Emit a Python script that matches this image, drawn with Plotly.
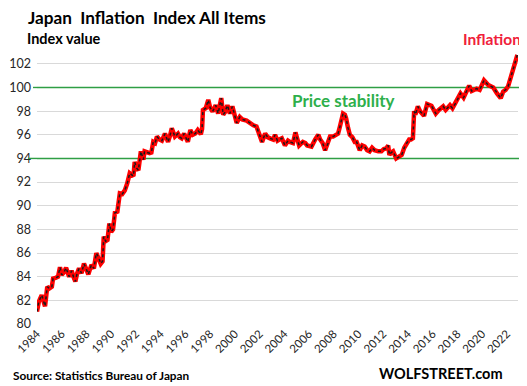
import plotly.graph_objects as go

# Digitized vertices of the line (decimal year, index value, 2020=100)
years = [
    1984.00, 1984.15, 1984.38, 1984.50, 1984.65, 1984.83, 1985.00, 1985.20, 1985.30, 1985.50,
    1985.70, 1985.86, 1986.00, 1986.20, 1986.35, 1986.60, 1986.80, 1986.95, 1987.10, 1987.25,
    1987.40, 1987.60, 1987.80, 1988.00, 1988.15, 1988.40, 1988.60, 1988.80, 1989.00, 1989.15,
    1989.30, 1989.40, 1989.55, 1989.70, 1989.85, 1990.00, 1990.15, 1990.30, 1990.50, 1990.70,
    1990.90, 1991.10, 1991.30, 1991.50, 1991.80, 1991.90, 1992.05, 1992.20, 1992.40, 1992.60,
    1992.70, 1992.90, 1993.10, 1993.25, 1993.40, 1993.55, 1993.70, 1993.90, 1994.10, 1994.35,
    1994.60, 1994.75, 1994.90, 1995.15, 1995.40, 1995.55, 1995.70, 1995.90, 1996.05, 1996.20,
    1996.40, 1996.60, 1996.80, 1997.00, 1997.25, 1997.35, 1997.42, 1997.65, 1997.85, 1998.00,
    1998.20, 1998.45, 1998.65, 1998.90, 1999.06, 1999.20, 1999.40, 1999.60, 1999.80, 2000.00,
    2000.15, 2000.40, 2000.60, 2000.95, 2001.20, 2001.50, 2001.75, 2002.00, 2002.20, 2002.45,
    2002.65, 2002.85, 2003.10, 2003.25, 2003.45, 2003.60, 2003.80, 2004.05, 2004.30, 2004.45,
    2004.70, 2004.90, 2005.00, 2005.20, 2005.50, 2005.70, 2005.85, 2006.20, 2006.50, 2006.75,
    2006.90, 2007.10, 2007.30, 2007.55, 2007.70, 2007.95, 2008.20, 2008.35, 2008.50, 2008.75,
    2008.90, 2009.00, 2009.15, 2009.30, 2009.50, 2009.70, 2009.85, 2010.10, 2010.30, 2010.50,
    2010.70, 2010.90, 2011.10, 2011.30, 2011.60, 2011.85, 2012.05, 2012.25, 2012.40, 2012.50,
    2012.65, 2012.80, 2013.05, 2013.25, 2013.50, 2013.70, 2013.90, 2014.10, 2014.25, 2014.40,
    2014.50, 2014.60, 2014.80, 2015.00, 2015.30, 2015.55, 2015.90, 2016.05, 2016.25, 2016.50,
    2016.85, 2017.05, 2017.40, 2017.60, 2017.90, 2018.25, 2018.50, 2018.95, 2019.15, 2019.55,
    2019.80, 2020.15, 2020.50, 2020.90, 2021.20, 2021.50, 2021.70, 2021.90, 2022.10, 2022.35,
    2022.60, 2022.85,
]
index_values = [
    81.05, 81.9, 82.45, 82.0, 81.5, 83.15, 83.0, 83.15, 83.85, 83.9,
    84.0, 84.8, 84.15, 84.4, 84.76, 84.0, 84.5, 84.0, 83.6, 84.3,
    84.7, 84.3, 85.1, 84.6, 84.2, 85.0, 84.7, 86.0, 85.6, 85.1,
    85.3, 87.4, 87.0, 87.1, 88.5, 87.8, 88.0, 89.4, 89.5, 91.05,
    91.0, 91.3, 91.9, 92.75, 92.5, 93.7, 93.2, 93.0, 94.6, 93.9,
    94.6, 94.5, 94.45, 94.5, 95.4, 95.3, 95.85, 95.6, 95.5, 96.1,
    95.4, 95.9, 96.55, 95.85, 96.1, 95.8, 95.7, 96.1, 95.8, 95.4,
    96.4, 96.0, 96.1, 96.4, 96.05, 96.5, 98.1, 98.25, 98.95, 98.3,
    97.96, 98.5, 97.8, 99.1, 97.7, 97.9, 98.5, 97.8, 98.4, 97.5,
    97.0, 97.5, 97.3, 97.2, 97.0, 96.8, 96.7, 96.0, 95.4, 96.1,
    95.8, 95.7, 95.6, 96.0, 95.5, 95.6, 95.7, 95.1, 95.5, 95.4,
    95.3, 96.2, 95.8, 95.1, 95.4, 95.3, 95.1, 95.0, 95.6, 96.0,
    95.6, 95.3, 94.7, 95.3, 95.85, 95.85, 96.0, 96.1, 96.7, 97.8,
    97.7, 97.4, 96.6, 96.0, 95.8, 95.4, 95.4, 94.7, 95.1, 95.0,
    94.7, 94.6, 94.9, 94.7, 94.6, 94.6, 94.8, 94.85, 95.1, 94.3,
    94.5, 94.6, 94.0, 94.1, 94.3, 94.9, 95.3, 95.6, 95.6, 95.7,
    98.0, 97.7, 98.4, 97.96, 97.6, 98.6, 98.46, 98.2, 97.8, 98.1,
    98.4, 98.1, 98.5, 98.25, 98.75, 99.5, 99.15, 100.15, 99.7, 99.9,
    99.8, 100.6, 100.2, 100.0, 99.5, 99.1, 99.65, 99.8, 100.1, 101.05,
    101.9, 102.75,
]

tick_years = list(range(1984, 2023, 2))
tick_labels = [str(y) for y in tick_years]
y_ticks = list(range(80, 103, 2))
reference_levels = [100, 94]

FONT = "Lato"
GREEN = "#2F9E44"

# page body has an 8px margin, so the figure is 8px smaller and everything
# is laid out in figure coordinates (= page pixels - 8)
W, H = 519, 378
L, R, T, B = 29, 9, 44, 62
PW, PH = W - L - R, H - T - B


def px(xpage):
    return (xpage - 8 - L) / PW


def py(ypage):
    return (H - B - (ypage - 8)) / PH


fig = go.Figure()
# green reference lines inside the plot, drawn above gridlines, below the data
for lvl in reference_levels:
    fig.add_trace(go.Scatter(x=[1984.0, 2022.9], y=[lvl, lvl], mode="lines",
                             line=dict(color=GREEN, width=1.4), hoverinfo="skip"))
fig.add_trace(go.Scatter(x=years, y=index_values, mode="lines",
                         line=dict(color="#FF0000", width=4.5), hoverinfo="skip"))
fig.add_trace(go.Scatter(x=years, y=index_values, mode="lines",
                         line=dict(color="#1a1a1a", width=1.5, dash="dot"), hoverinfo="skip"))

# the green lines stick out a little beyond the plot area on both sides
left_ext = {100: 33, 94: 28}
for lvl in reference_levels:
    fig.add_shape(type="line", xref="paper", yref="y", x0=px(left_ext[lvl]), x1=0.0,
                  y0=lvl, y1=lvl, line=dict(color=GREEN, width=1.4), layer="above")
    fig.add_shape(type="line", xref="paper", yref="y", x0=1.0, x1=px(530),
                  y0=lvl, y1=lvl, line=dict(color=GREEN, width=1.4), layer="above")

fig.update_layout(
    width=W, height=H,
    margin=dict(l=L, r=R, t=T, b=B, autoexpand=False),
    paper_bgcolor="white", plot_bgcolor="white",
    showlegend=False,
    font=dict(family=FONT, color="#262626"),
    xaxis=dict(range=[1984.0, 2022.9], tickvals=tick_years, ticktext=tick_labels,
               tickangle=-45, showgrid=False, zeroline=False, showline=False,
               ticks="", automargin=False,
               tickfont=dict(size=11.5, family=FONT, color="#262626")),
    yaxis=dict(range=[80, 103], tickvals=y_ticks, showgrid=True, gridcolor="#D9D9D9",
               gridwidth=1, zeroline=False, showline=False, ticks="",
               ticklabelstandoff=5, automargin=False,
               tickfont=dict(size=12.5, family=FONT, color="#262626")),
    annotations=[
        dict(text="<b>Japan  Inflation  Index All Items</b>", xref="paper", yref="paper",
             x=px(26), y=py(17), xanchor="left", yanchor="middle", showarrow=False,
             font=dict(size=17.2, family=FONT, color="black")),
        dict(text="<b>Index value</b>", xref="paper", yref="paper",
             x=px(25), y=py(39), xanchor="left", yanchor="middle", showarrow=False,
             font=dict(size=14.5, family=FONT, color="black")),
        dict(text="<b>Price stability</b>", xref="paper", yref="paper",
             x=px(343), y=py(100), xanchor="center", yanchor="middle", showarrow=False,
             font=dict(size=17, family=FONT, color="#2EAF4B")),
        dict(text="<b>Inflation</b>", xref="paper", yref="paper",
             x=px(523), y=py(39), xanchor="right", yanchor="middle", showarrow=False,
             font=dict(size=15.5, family=FONT, color="#F0203A")),
        dict(text="<b>Source: Statistics Bureau of Japan</b>", xref="paper", yref="paper",
             x=px(11), y=py(375), xanchor="left", yanchor="middle", showarrow=False,
             font=dict(size=11.8, family=FONT, color="black")),
        dict(text="<b>WOLFSTREET.com</b>", xref="paper", yref="paper",
             x=px(505), y=py(373), xanchor="right", yanchor="middle", showarrow=False,
             font=dict(size=14.5, family=FONT, color="black")),
    ],
)

fig.write_html("out.html")
